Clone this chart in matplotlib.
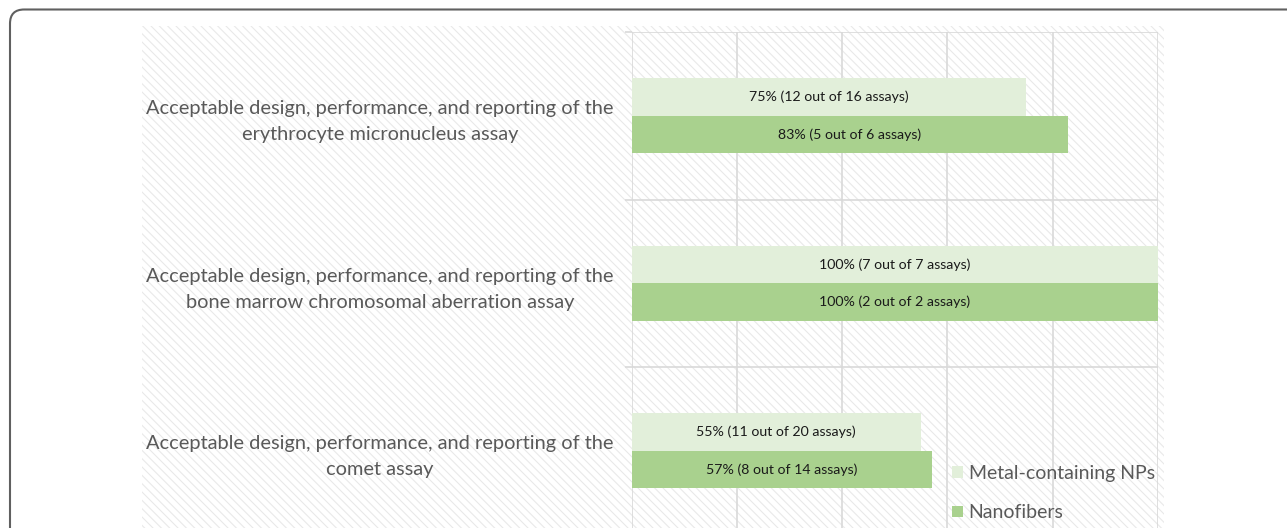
import matplotlib
matplotlib.use("Agg")
from matplotlib import pyplot as plt
from matplotlib.patches import Rectangle, FancyBboxPatch

categories = [
    "Acceptable design, performance, and reporting of the\nerythrocyte micronucleus assay",
    "Acceptable design, performance, and reporting of the\nbone marrow chromosomal aberration assay",
    "Acceptable design, performance, and reporting of the\ncomet assay",
]
series_names = ["Metal-containing NPs", "Nanofibers"]
metal_values = [75, 100, 55]
nano_values = [83, 100, 57]
metal_labels = ["75% (12 out of 16 assays)", "100% (7 out of 7 assays)", "55% (11 out of 20 assays)"]
nano_labels = ["83% (5 out of 6 assays)", "100% (2 out of 2 assays)", "57% (8 out of 14 assays)"]

light = "#e2efda"
dark = "#a9d18e"
grid_col = "#d9d9d9"
text_col = "#595959"

plt.rcParams["font.family"] = ["Lato", "DejaVu Sans"]
plt.rcParams["hatch.linewidth"] = 0.8
plt.rcParams["hatch.color"] = "#e9e9e9"

W, H = 1287, 528
fig = plt.figure(figsize=(W / 100, H / 100), dpi=100)

# outer rounded frame, only top-left corner visible
frame = FancyBboxPatch((10 / W, -0.2), 1.2, 1 - 9.5 / H + 0.2,
                       boxstyle="round,pad=0,rounding_size=0.011",
                       transform=fig.transFigure, facecolor="white",
                       edgecolor="#606060", linewidth=1.5, mutation_aspect=W / H,
                       zorder=-3)
fig.patches.append(frame)

# hatched chart area
bg = Rectangle((142 / W, -0.05), (1164 - 142) / W, 1 - 26 / H + 0.05,
               transform=fig.transFigure, facecolor="white", edgecolor="#e9e9e9",
               hatch="\\\\\\\\", linewidth=0, zorder=-2)
fig.patches.append(bg)

ax = fig.add_axes([631.5 / W, 1 - 534.5 / H, (1158 - 631.5) / W, (534.5 - 32) / H])
ax.patch.set_alpha(0)
ax.set_zorder(1)

y = list(range(len(categories)))
h = 0.224
ax.barh([v - h / 2 for v in y], metal_values, height=h, color=light, label=series_names[0], zorder=2)
ax.barh([v + h / 2 for v in y], nano_values, height=h, color=dark, label=series_names[1], zorder=2)

for i in y:
    ax.text(metal_values[i] / 2, i - h / 2, metal_labels[i], ha="center", va="center",
            fontsize=10.2, color="#1a1a1a", zorder=3)
    ax.text(nano_values[i] / 2, i + h / 2, nano_labels[i], ha="center", va="center",
            fontsize=10.2, color="#1a1a1a", zorder=3)

ax.set_xlim(0, 100)
ax.set_ylim(len(categories) - 0.5, -0.5)
ax.set_xticks([0, 20, 40, 60, 80, 100])
ax.set_xticklabels([])
ax.tick_params(axis="x", length=0)
ax.grid(axis="x", color=grid_col, linewidth=1.2, zorder=0)

ax.set_yticks(y)
ax.set_yticklabels(categories, ha="center", multialignment="center", fontsize=14.4,
                   color=text_col, linespacing=1.65)
ax.tick_params(axis="y", which="major", length=0, pad=181)
ax.set_yticks([-0.5, 0.5, 1.5], minor=True)
ax.tick_params(axis="y", which="minor", length=5, color=grid_col, width=1.2)
ax.grid(axis="y", which="minor", color=grid_col, linewidth=1.2, zorder=0)

for s in ["left", "right", "bottom", "top"]:
    ax.spines[s].set_visible(False)

leg = ax.legend(loc="upper left", bbox_to_anchor=(952 / W, 1 - 465 / H),
                bbox_transform=fig.transFigure, frameon=False, fontsize=14.0,
                handlelength=0.55, handleheight=0.55, handletextpad=0.3,
                labelspacing=1.15, borderpad=0, borderaxespad=0)
for t in leg.get_texts():
    t.set_color(text_col)

fig.savefig("out.png", dpi=100)
